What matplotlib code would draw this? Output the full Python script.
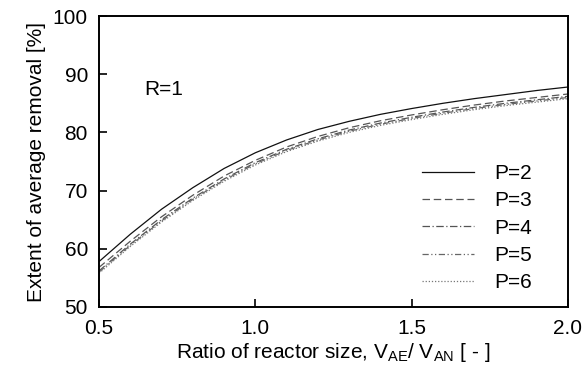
import matplotlib
matplotlib.use("Agg")
import matplotlib.pyplot as plt

plt.rcParams['font.family'] = ['Liberation Sans', 'DejaVu Sans']
plt.rcParams['mathtext.fontset'] = 'custom'
plt.rcParams['mathtext.rm'] = 'Liberation Sans'
plt.rcParams['mathtext.it'] = 'Liberation Sans'

ratio = [0.5, 0.6, 0.7, 0.8, 0.9, 1.0, 1.1, 1.2, 1.3, 1.4, 1.5, 1.6, 1.7, 1.8, 1.9, 2.0]
p2 = [57.8, 62.5, 66.8, 70.5, 73.8, 76.5, 78.7, 80.5, 81.9, 83.1, 84.1, 85.0, 85.8, 86.5, 87.2, 87.8]
p3 = [56.8, 61.3, 65.5, 69.2, 72.5, 75.2, 77.5, 79.3, 80.8, 82.0, 83.0, 83.9, 84.7, 85.4, 86.0, 86.6]
p4 = [56.2, 60.8, 65.0, 68.7, 72.0, 74.8, 77.1, 78.9, 80.4, 81.6, 82.6, 83.5, 84.3, 85.0, 85.6, 86.2]
p5 = [56.0, 60.6, 64.8, 68.5, 71.8, 74.6, 76.9, 78.7, 80.2, 81.4, 82.4, 83.3, 84.1, 84.8, 85.4, 86.0]
p6 = [55.8, 60.4, 64.6, 68.3, 71.6, 74.4, 76.7, 78.5, 80.0, 81.2, 82.2, 83.1, 83.9, 84.6, 85.2, 85.8]

labels = ['P=2', 'P=3', 'P=4', 'P=5', 'P=6']
series = [p2, p3, p4, p5, p6]
styles = ['-', (0, (6, 3)), (0, (6, 2, 1, 2)), (0, (5, 2, 1, 2, 1, 2)), (0, (1, 1.5))]
colors = ['#111111', '#555555', '#555555', '#666666', '#777777']

fs = 15

fig = plt.figure(figsize=(5.83, 3.79), dpi=100)
ax = fig.add_axes([99/583, 1 - 307/379, 469/583, 291/379])

for y, lab, ls, c in zip(series, labels, styles, colors):
    ax.plot(ratio, y, linestyle=ls, color=c, linewidth=0.9, label=lab)

ax.set_xlim(0.5, 2.0)
ax.set_ylim(50, 100)
ax.set_xticks([0.5, 1.0, 1.5, 2.0])
ax.set_xticklabels(['0.5', '1.0', '1.5', '2.0'])
ax.set_yticks([50, 60, 70, 80, 90, 100])
ax.tick_params(direction='in', length=6, width=1.2, labelsize=fs)
ax.tick_params(axis='x', pad=9)
ax.tick_params(axis='y', pad=8)
for s in ax.spines.values():
    s.set_linewidth(1.4)

ax.text(0.645, 87.3, 'R=1', fontsize=fs, va='center')

ax.set_xlabel(r'Ratio of reactor size, V$_{\mathrm{AE}}$/ V$_{\mathrm{AN}}$ [ - ]', fontsize=fs, labelpad=2)
ax.set_ylabel('Extent of average removal [%]', fontsize=fs, labelpad=5)

ax.legend(loc='lower right', frameon=False, fontsize=fs, handlelength=2.5,
          labelspacing=0.4, handletextpad=1.0, borderaxespad=0.3,
          bbox_to_anchor=(0.955, 0.0))

fig.savefig('out.png', dpi=100)
